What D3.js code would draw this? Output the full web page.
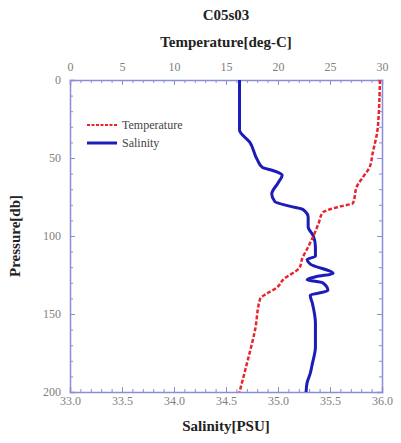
<!DOCTYPE html>
<html>
<head>
<meta charset="utf-8">
<script src="https://cdn.jsdelivr.net/npm/d3@7"></script>
<style>
  body { margin: 0; background: #fff; }
  .tick text { font-family: "Liberation Serif", serif; font-size: 12px; fill: #808080; }
  .axisTitle { font-family: "Liberation Serif", serif; font-size: 15px; font-weight: bold; fill: #222; }
</style>
</head>
<body>
<div class="chart"></div>
<script>
// profile data
var tempPressure = [0, 30, 47, 56, 62, 68, 79, 81, 85, 92, 100, 107, 115, 120, 128, 133, 137, 140, 160, 182, 200];
var tempValues = [29.8, 29.6, 29.1, 28.8, 28.2, 27.6, 27.2, 26.0, 24.3, 23.9, 23.4, 22.9, 22.3, 22.1, 20.5, 19.9, 18.9, 18.3, 17.8, 17.0, 16.3];

var salPressure = [0, 32, 40, 51, 56, 58, 61, 66, 73, 78, 81, 83, 88, 94, 100, 107, 113, 115, 118, 124, 126, 128, 130, 135, 138, 143, 156, 171, 182, 188, 194, 200];
var salValues = [34.63, 34.63, 34.73, 34.80, 34.85, 34.95, 35.04, 35.00, 34.94, 34.97, 35.12, 35.24, 35.29, 35.29, 35.34, 35.36, 35.36, 35.28, 35.31, 35.53, 35.37, 35.28, 35.43, 35.48, 35.31, 35.33, 35.36, 35.36, 35.33, 35.31, 35.28, 35.27];

var tempTicks = [0, 5, 10, 15, 20, 25, 30];
var salTicks = [33.0, 33.5, 34.0, 34.5, 35.0, 35.5, 36.0];
var presTicks = [0, 50, 100, 150, 200];

var svgWidth = 401;
var svgHeight = 443;
var margin = { top: 80, right: 19, bottom: 51, left: 70 };
var width = svgWidth - margin.left - margin.right;
var height = svgHeight - margin.top - margin.bottom;

var axisColor = "#8c8cd8";

var svg = d3.select(".chart")
  .append("svg")
  .attr("width", svgWidth)
  .attr("height", svgHeight);

var chartGroup = svg.append("g")
  .attr("transform", `translate(${margin.left}, ${margin.top})`);

// scales
var xSal = d3.scaleLinear().domain([33, 36]).range([0, width]);
var xTemp = d3.scaleLinear().domain([0, 30]).range([0, width]);
var yPres = d3.scaleLinear().domain([0, 200]).range([0, height]);

// minor ticks first, then major with labels
function drawAxis(axisFn, scale, minor, major, fmt, transform, pad) {
  chartGroup.append("g")
    .attr("transform", transform)
    .call(axisFn(scale).tickValues(minor).tickSize(-3).tickFormat(""))
    .call(g => g.select(".domain").remove())
    .call(g => g.selectAll("line").attr("stroke", axisColor));
  var g = chartGroup.append("g")
    .attr("transform", transform)
    .call(axisFn(scale).tickValues(major).tickSize(-5).tickPadding(pad).tickFormat(fmt));
  g.select(".domain").attr("stroke", axisColor).attr("stroke-width", 1.5);
  g.selectAll("line").attr("stroke", axisColor);
  return g;
}

drawAxis(d3.axisBottom, xSal, d3.range(33, 36.001, 0.1), salTicks, d3.format(".1f"), `translate(0, ${height})`, 4);
drawAxis(d3.axisTop, xTemp, d3.range(0, 30.001, 1), tempTicks, d3.format("d"), "translate(0, 0)", 9);
drawAxis(d3.axisLeft, yPres, d3.range(0, 200.001, 10), presTicks, d3.format("d"), "translate(0, 0)", 9);
drawAxis(d3.axisRight, yPres, d3.range(0, 200.001, 10), presTicks, "", `translate(${width}, 0)`, 5);

// profiles
var tempData = tempPressure.map((p, i) => ({ p: p, v: tempValues[i] }));
var salData = salPressure.map((p, i) => ({ p: p, v: salValues[i] }));

var tempLine = d3.line().x(d => xTemp(d.v)).y(d => yPres(d.p)).curve(d3.curveMonotoneY);
var salLine = d3.line().x(d => xSal(d.v)).y(d => yPres(d.p)).curve(d3.curveMonotoneY);

chartGroup.append("path")
  .datum(salData)
  .attr("d", salLine)
  .attr("fill", "none")
  .attr("stroke", "#1c1cb8")
  .attr("stroke-width", 3);

chartGroup.append("path")
  .datum(tempData)
  .attr("d", tempLine)
  .attr("fill", "none")
  .attr("stroke", "#e8242c")
  .attr("stroke-width", 2.5)
  .attr("stroke-dasharray", "4,2");

// legend
var legend = chartGroup.append("g").attr("transform", "translate(17, 45)");
legend.append("line")
  .attr("x1", 0).attr("x2", 30).attr("y1", 0).attr("y2", 0)
  .attr("stroke", "#e8242c").attr("stroke-width", 2).attr("stroke-dasharray", "3,1.5");
legend.append("line")
  .attr("x1", 0).attr("x2", 30).attr("y1", 18).attr("y2", 18)
  .attr("stroke", "#1c1cb8").attr("stroke-width", 3);
legend.append("text").attr("x", 35).attr("y", 4)
  .style("font-family", "Liberation Serif, serif").style("font-size", "12px").attr("fill", "#444")
  .text("Temperature");
legend.append("text").attr("x", 35).attr("y", 22)
  .style("font-family", "Liberation Serif, serif").style("font-size", "12px").attr("fill", "#444")
  .text("Salinity");

// titles
svg.append("text")
  .attr("class", "axisTitle")
  .attr("x", margin.left + width / 2).attr("y", 20)
  .attr("text-anchor", "middle")
  .text("C05s03");

svg.append("text")
  .attr("class", "axisTitle")
  .attr("x", margin.left + width / 2).attr("y", 47)
  .attr("text-anchor", "middle")
  .text("Temperature[deg-C]");

svg.append("text")
  .attr("class", "axisTitle")
  .attr("x", margin.left + width / 2).attr("y", 431)
  .attr("text-anchor", "middle")
  .text("Salinity[PSU]");

svg.append("text")
  .attr("class", "axisTitle")
  .attr("transform", "rotate(-90)")
  .attr("x", -(margin.top + height / 2)).attr("y", 20)
  .attr("text-anchor", "middle")
  .text("Pressure[db]");
</script>
</body>
</html>
